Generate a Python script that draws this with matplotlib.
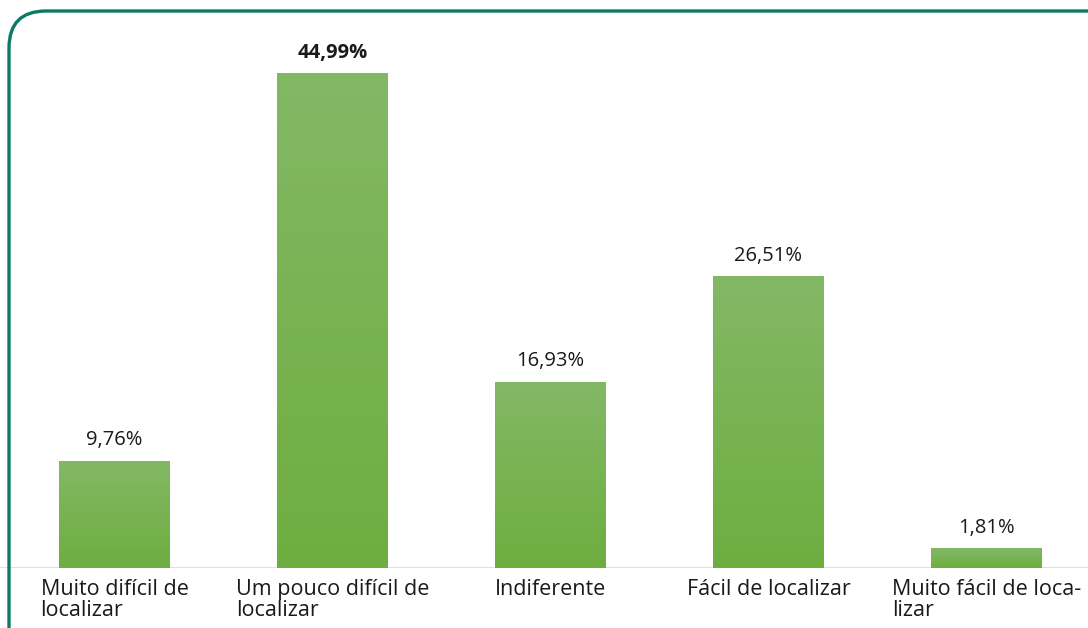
import numpy as np
import matplotlib
matplotlib.use('Agg')
import matplotlib.pyplot as plt
from matplotlib.patches import FancyBboxPatch

categorias = ['Muito difícil de\nlocalizar', 'Um pouco difícil de\nlocalizar', 'Indiferente',
              'Fácil de localizar', 'Muito fácil de loca-\nlizar']
valores = [9.76, 44.99, 16.93, 26.51, 1.81]
rotulos = ['9,76%', '44,99%', '16,93%', '26,51%', '1,81%']

plt.rcParams['font.family'] = ['Open Sans', 'DejaVu Sans']

fig = plt.figure(figsize=(10.88, 6.28), dpi=100)
fig.patch.set_facecolor('white')

# moldura verde arredondada
moldura = FancyBboxPatch((9 / 1088, -0.2), 1.2, 1.2 - 11 / 628,
                         boxstyle='round,pad=0,rounding_size=0.034',
                         transform=fig.transFigure, facecolor='none',
                         edgecolor='#0b7a64', linewidth=2.4, mutation_aspect=1088 / 628)
fig.patches.append(moldura)

ax = fig.add_axes([0, 60 / 628, 1, 568 / 628])
ax.set_facecolor('none')
x = np.arange(len(valores))
barras = ax.bar(x, valores, width=0.505, color='#72b046')

# gradiente vertical nas barras
grad = np.linspace(0, 1, 256).reshape(-1, 1)
cmap = matplotlib.colors.LinearSegmentedColormap.from_list('g', ['#6eae40', '#83b865'])
for b in barras:
    b.set_facecolor('none')
    x0, y0 = b.get_x(), b.get_y()
    im = ax.imshow(grad, extent=(x0, x0 + b.get_width(), y0, y0 + b.get_height()),
                   origin='lower', cmap=cmap, aspect='auto', zorder=2)
    im.set_clip_path(b)

for i, (v, r) in enumerate(zip(valores, rotulos)):
    ax.text(x[i], v + 0.95, r, ha='center', va='bottom', fontsize=14.5, color='#1a1a1a',
            fontweight='bold' if v == max(valores) else 'normal')

ax.set_xlim(-0.525, 4.466)
ax.set_ylim(0, 568 / 11)
ax.axhline(0, color='#d9d9d9', lw=1.2, zorder=1)
for s in ax.spines.values():
    s.set_visible(False)
ax.set_yticks([])
ax.set_xticks(x)
ax.set_xticklabels(categorias, fontsize=15.5, color='#1a1a1a', linespacing=1.0,
                   multialignment='left')
ax.tick_params(axis='x', length=0, pad=8)

fig.savefig('out.png', dpi=100)
